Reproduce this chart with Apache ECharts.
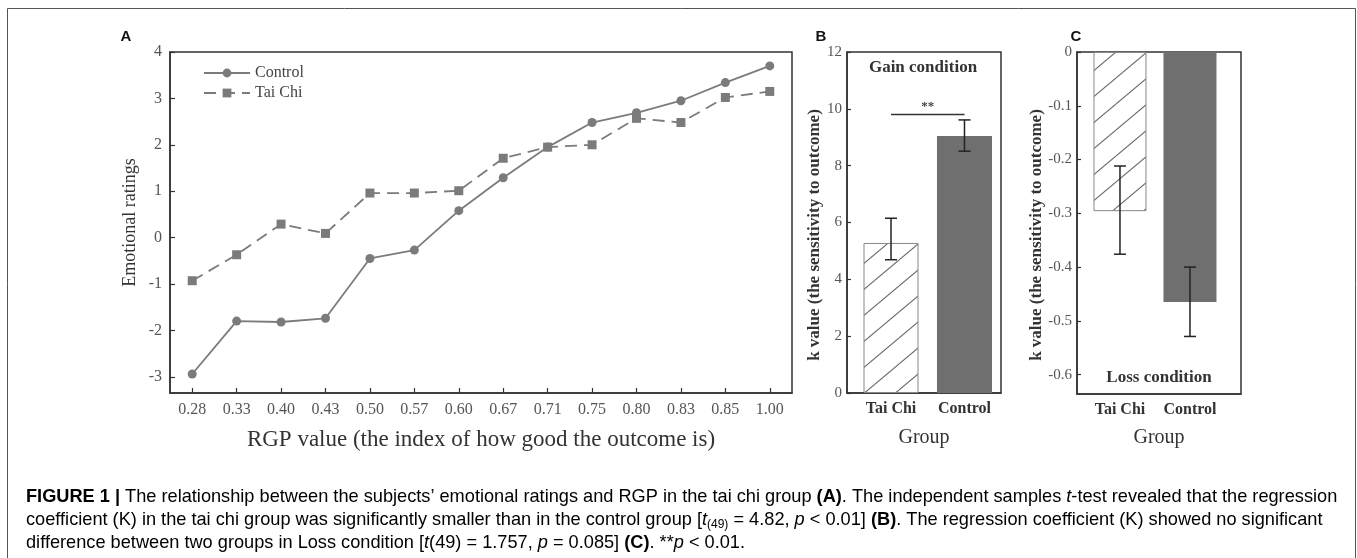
<!DOCTYPE html>
<html>
<head>
<meta charset="utf-8">
<script src="https://cdn.jsdelivr.net/npm/echarts@6/dist/echarts.min.js"></script>
<style>html,body{margin:0;padding:0;background:#fff}#c{width:1357px;height:558px}</style>
</head>
<body>
<div id="c"></div>
<script>
// ---- Data ----
const rgpLabels = ['0.28','0.33','0.40','0.43','0.50','0.57','0.60','0.67','0.71','0.75','0.80','0.83','0.85','1.00'];
const controlRatings = [-2.94,-1.80,-1.82,-1.74,-0.45,-0.27,0.58,1.29,1.95,2.48,2.69,2.95,3.34,3.70];
const taiChiRatings = [-0.93,-0.37,0.29,0.09,0.96,0.96,1.01,1.71,1.95,2.00,2.57,2.48,3.02,3.15];
const ratingTicks = [-3,-2,-1,0,1,2,3,4];

const groups = ['Tai Chi','Control'];
const groupPos = [1,2];
const gainK = [5.28, 9.04];
const gainLow = [4.69, 8.51];
const gainHigh = [6.15, 9.61];
const gainSigY = 9.8;

const lossK = [-0.296, -0.465];
const lossLow = [-0.376, -0.529];
const lossHigh = [-0.212, -0.400];
const lossTicks = [0,-0.1,-0.2,-0.3,-0.4,-0.5,-0.6];

// ---- Styles ----
const SERIF = '"Liberation Serif","Times New Roman",serif';
const SANS = '"Liberation Sans",Arial,sans-serif';
const LINE_C = '#7b7b7b';
const AX = '#333';
const LBL = '#555';

function makeHatch(){
  const W=31,H=26;
  const c=document.createElement('canvas'); c.width=W; c.height=H;
  const ctx=c.getContext('2d');
  ctx.fillStyle='#fff'; ctx.fillRect(0,0,W,H);
  ctx.strokeStyle='#6a6a6a'; ctx.lineWidth=1.1;
  for (const k of [-1,0,1]) {
    ctx.beginPath(); ctx.moveTo(0, H + k*H); ctx.lineTo(W, k*H); ctx.stroke();
  }
  return c;
}
const hatch = {image: makeHatch(), repeat: 'repeat'};

const chart = echarts.init(document.getElementById('c'), null, {renderer:'canvas'});

function errRender(params, api){
  const x = api.value(0);
  const pLo = api.coord([x, api.value(1)]);
  const pHi = api.coord([x, api.value(2)]);
  const w = 6;
  const st = {stroke:'#222', lineWidth:1.5};
  return {type:'group', children:[
    {type:'line', shape:{x1:pLo[0],y1:pLo[1],x2:pHi[0],y2:pHi[1]}, style:st},
    {type:'line', shape:{x1:pLo[0]-w,y1:pLo[1],x2:pLo[0]+w,y2:pLo[1]}, style:st},
    {type:'line', shape:{x1:pHi[0]-w,y1:pHi[1],x2:pHi[0]+w,y2:pHi[1]}, style:st}
  ]};
}

const grids = [
  {left:170, top:52, width:622, height:341},
  {left:847, top:52, width:154, height:341},
  {left:1077, top:52, width:164, height:342}
].map(g => Object.assign({show:true, borderColor:AX, borderWidth:1.5, backgroundColor:'transparent', containLabel:false}, g));

const axisCommon = {
  axisLine:{show:true, onZero:false, lineStyle:{color:AX, width:1.5}},
  axisTick:{show:true, inside:true, length:4, lineStyle:{color:AX, width:1.2}},
  splitLine:{show:false}
};

const option = {
  animation:false,
  backgroundColor:'#fff',
  grid: grids,
  legend: {
    data:['Control','Tai Chi'], orient:'vertical', left:198, top:60,
    itemWidth:46, itemHeight:11, itemGap:4,
    textStyle:{fontFamily:SERIF, fontSize:16, color:'#444'}
  },
  xAxis: [
    Object.assign({}, axisCommon, {
      gridIndex:0, type:'category', data:rgpLabels, boundaryGap:true,
      axisTick:{show:true, inside:true, length:5, alignWithLabel:true, lineStyle:{color:AX, width:1.2}},
      axisLabel:{fontFamily:SERIF, fontSize:16, color:LBL, margin:9},
      name:'RGP value (the index of how good the outcome is)', nameLocation:'middle', nameGap:35,
      nameTextStyle:{fontFamily:SERIF, fontSize:23, color:'#333'}
    }),
    Object.assign({}, axisCommon, {
      gridIndex:1, type:'value', min:0.401, max:2.497,
      axisTick:{show:false},
      axisLabel:{customValues:groupPos, formatter:v=>groups[Math.round(v)-1], fontFamily:SERIF, fontWeight:'bold', fontSize:16, color:'#333', margin:8},
      name:'Group', nameLocation:'middle', nameGap:35,
      nameTextStyle:{fontFamily:SERIF, fontSize:20, color:'#333'}
    }),
    Object.assign({}, axisCommon, {
      gridIndex:2, type:'value', min:0.386, max:2.729, position:'bottom',
      axisTick:{show:false},
      axisLabel:{customValues:groupPos, formatter:v=>groups[Math.round(v)-1], fontFamily:SERIF, fontWeight:'bold', fontSize:16, color:'#333', margin:8},
      name:'Group', nameLocation:'middle', nameGap:34,
      nameTextStyle:{fontFamily:SERIF, fontSize:20, color:'#333'}
    })
  ],
  yAxis: [
    Object.assign({}, axisCommon, {
      gridIndex:0, type:'value', min:-3.35, max:4,
      axisTick:{show:true, inside:true, length:5, customValues:ratingTicks, lineStyle:{color:AX, width:1.2}},
      axisLabel:{customValues:ratingTicks, fontFamily:SERIF, fontSize:16, color:LBL, margin:8},
      name:'Emotional ratings', nameLocation:'middle', nameGap:31,
      nameTextStyle:{fontFamily:SERIF, fontSize:18, color:'#333'}
    }),
    Object.assign({}, axisCommon, {
      gridIndex:1, type:'value', min:0, max:12, interval:2,
      axisLabel:{fontFamily:SERIF, fontSize:15, color:LBL, margin:5}
    }),
    Object.assign({}, axisCommon, {
      gridIndex:2, type:'value', min:-0.636, max:0,
      axisTick:{show:true, inside:true, length:4, customValues:lossTicks, lineStyle:{color:AX, width:1.2}},
      axisLabel:{customValues:lossTicks, formatter:v=>String(Math.round(v*10)/10), fontFamily:SERIF, fontSize:15, color:LBL, margin:5}
    })
  ],
  series: [
    {name:'Control', type:'line', xAxisIndex:0, yAxisIndex:0, data:controlRatings,
     symbol:'circle', symbolSize:9, color:LINE_C,
     lineStyle:{color:LINE_C, width:1.8, type:'solid'}, itemStyle:{color:LINE_C}},
    {name:'Tai Chi', type:'line', xAxisIndex:0, yAxisIndex:0, data:taiChiRatings,
     symbol:'rect', symbolSize:9, color:LINE_C,
     lineStyle:{color:LINE_C, width:1.8, type:[12,7]}, itemStyle:{color:LINE_C}},
    {type:'bar', xAxisIndex:1, yAxisIndex:1, barWidth:55,
     data: groupPos.map((p,i)=>({value:[p, gainK[i]], itemStyle: i===0 ? {color:hatch, borderColor:'#888', borderWidth:1} : {color:'#6f6f6f'}}))},
    {type:'custom', xAxisIndex:1, yAxisIndex:1, renderItem:errRender,
     data: groupPos.map((p,i)=>[p, gainLow[i], gainHigh[i]]), z:5},
    {type:'custom', xAxisIndex:1, yAxisIndex:1, z:5,
     renderItem:function(params, api){
       const a = api.coord([api.value(0), api.value(2)]);
       const b = api.coord([api.value(1), api.value(2)]);
       return {type:'group', children:[
         {type:'line', shape:{x1:a[0],y1:a[1],x2:b[0],y2:b[1]}, style:{stroke:'#333', lineWidth:1.5}},
         {type:'text', x:(a[0]+b[0])/2, y:a[1]-1, style:{text:'**', font:'bold 13px '+SERIF, fill:'#444', align:'center', verticalAlign:'bottom'}}
       ]};
     },
     data:[[groupPos[0], groupPos[1], gainSigY]]},
    {type:'bar', xAxisIndex:2, yAxisIndex:2, barWidth:53,
     data: groupPos.map((p,i)=>({value:[p, lossK[i]], itemStyle: i===0 ? {color:hatch, borderColor:'#888', borderWidth:1} : {color:'#6f6f6f'}}))},
    {type:'custom', xAxisIndex:2, yAxisIndex:2, renderItem:errRender,
     data: groupPos.map((p,i)=>[p, lossLow[i], lossHigh[i]]), z:5}
  ],
  graphic: [
    {type:'rect', silent:true, z:-10, shape:{x:7.5,y:8.5,width:1348,height:600}, style:{fill:'none', stroke:'#555', lineWidth:1}},
    {type:'text', x:126, y:37, style:{text:'A', font:'bold 15px '+SANS, fill:'#111', align:'center', verticalAlign:'middle'}},
    {type:'text', x:821, y:37, style:{text:'B', font:'bold 15px '+SANS, fill:'#111', align:'center', verticalAlign:'middle'}},
    {type:'text', x:1076, y:37, style:{text:'C', font:'bold 15px '+SANS, fill:'#111', align:'center', verticalAlign:'middle'}},
    {type:'text', x:923, y:68, style:{text:'Gain condition', font:'bold 17px '+SERIF, fill:'#333', align:'center', verticalAlign:'middle'}},
    {type:'text', x:1159, y:378, style:{text:'Loss condition', font:'bold 17px '+SERIF, fill:'#333', align:'center', verticalAlign:'middle'}},
    {type:'text', x:815, y:235, rotation:Math.PI/2, style:{text:'k value (the sensitivity to outcome)', font:'bold 17px '+SERIF, fill:'#333', align:'center', verticalAlign:'middle'}},
    {type:'text', x:1037, y:235, rotation:Math.PI/2, style:{text:'k value (the sensitivity to outcome)', font:'bold 17px '+SERIF, fill:'#333', align:'center', verticalAlign:'middle'}},
    {type:'text', left:26, top:488, style:{
      text:'{b|FIGURE 1 |}{n| The relationship between the subjects’ emotional ratings and RGP in the tai chi group }{b|(A)}{n|. The independent samples }{i|t}{n|-test revealed that the regression}',
      rich:null}},
    {type:'text', left:26, top:509, style:{
      text:'{n|coefficient (K) in the tai chi group was significantly smaller than in the control group [}{i|t}{s|(49)}{n| = 4.82, }{i|p}{n| < 0.01] }{b|(B)}{n|. The regression coefficient (K) showed no significant}',
      rich:null}},
    {type:'text', left:26, top:534, style:{
      text:'{n|difference between two groups in Loss condition [}{i|t}{n|(49) = 1.757, }{i|p}{n| = 0.085] }{b|(C)}{n|. **}{i|p}{n| < 0.01.}',
      rich:null}}
  ]
};

const CAP = 18.2;
const richCap = {
  n:{fontFamily:SANS, fontSize:CAP, color:'#333', lineHeight:22},
  b:{fontFamily:SANS, fontSize:CAP, fontWeight:'bold', color:'#111', lineHeight:22},
  i:{fontFamily:SANS, fontSize:CAP, fontStyle:'italic', color:'#333', lineHeight:22},
  s:{fontFamily:SANS, fontSize:12, color:'#333', lineHeight:12, padding:[10,0,0,0], verticalAlign:'top'}
};
option.graphic.forEach(g => { if (g.style && g.style.rich === null) g.style.rich = richCap; });

chart.setOption(option);
</script>
</body>
</html>
